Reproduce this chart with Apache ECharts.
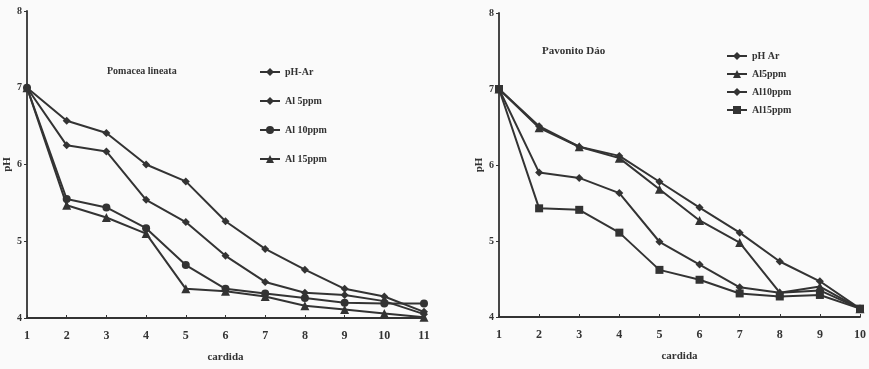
<!DOCTYPE html>
<html>
<head>
<meta charset="utf-8">
<script src="https://cdn.jsdelivr.net/npm/echarts@6/dist/echarts.min.js"></script>
<style>
html, body { margin: 0; padding: 0; background: #fafafa; }
#main { width: 869px; height: 369px; }
</style>
</head>
<body>
<div id="main"></div>
<script>
// left panel
const leftWeeks = ['1', '2', '3', '4', '5', '6', '7', '8', '9', '10', '11'];
const leftNames = ['pH-Ar', 'Al 5ppm', 'Al 10ppm', 'Al 15ppm'];
const leftPhAr = [7.0, 6.57, 6.41, 6.0, 5.78, 5.26, 4.90, 4.63, 4.38, 4.28, 4.08];
const leftAl5 = [7.0, 6.25, 6.17, 5.54, 5.25, 4.81, 4.47, 4.33, 4.30, 4.22, 4.05];
const leftAl10 = [7.0, 5.55, 5.44, 5.17, 4.69, 4.38, 4.32, 4.26, 4.20, 4.19, 4.19];
const leftAl15 = [7.0, 5.47, 5.31, 5.10, 4.38, 4.35, 4.28, 4.16, 4.11, 4.06, 4.01];

// right panel
const rightWeeks = ['1', '2', '3', '4', '5', '6', '7', '8', '9', '10'];
const rightNames = ['pH Ar', 'Al5ppm', 'Al10ppm', 'Al15ppm'];
const rightPhAr = [7.0, 6.51, 6.24, 6.12, 5.78, 5.44, 5.11, 4.73, 4.47, 4.11];
const rightAl5 = [7.0, 6.49, 6.24, 6.09, 5.68, 5.27, 4.98, 4.32, 4.40, 4.11];
const rightAl10 = [7.0, 5.90, 5.83, 5.63, 4.99, 4.69, 4.39, 4.32, 4.35, 4.11];
const rightAl15 = [7.0, 5.43, 5.41, 5.11, 4.62, 4.49, 4.31, 4.27, 4.29, 4.11];

const yTicks = [4, 5, 6, 7, 8];

const ink = '#333333';
const font = 'Liberation Serif';

function lineSeries(name, data, symbol, idx) {
  return {
    name: name,
    type: 'line',
    xAxisIndex: idx,
    yAxisIndex: idx,
    data: data,
    symbol: symbol,
    symbolSize: symbol === 'triangle' ? 9 : 8,
    lineStyle: { color: ink, width: 2 },
    itemStyle: { color: ink },
    animation: false
  };
}

function xAxisFor(idx, cats) {
  return {
    type: 'category',
    gridIndex: idx,
    data: cats,
    boundaryGap: false,
    name: 'cardida',
    nameLocation: 'middle',
    nameGap: 34,
    nameTextStyle: { color: ink, fontFamily: font, fontWeight: 'bold', fontSize: 11 },
    axisLine: { lineStyle: { color: ink, width: 1.8 } },
    axisTick: { inside: true, length: 3, lineStyle: { color: ink } },
    axisLabel: { color: ink, fontFamily: font, fontWeight: 'bold', fontSize: 12, margin: 12 },
    splitLine: { show: false }
  };
}

function yAxisFor(idx) {
  return {
    type: 'value',
    gridIndex: idx,
    min: 4,
    max: 8,
    interval: 1,
    name: 'pH',
    nameLocation: 'middle',
    nameGap: 13,
    nameTextStyle: { color: ink, fontFamily: font, fontWeight: 'bold', fontSize: 11 },
    axisLine: { show: true, lineStyle: { color: ink, width: 1.8 } },
    axisTick: { show: true, length: 3, lineStyle: { color: ink } },
    axisLabel: {
      color: ink, fontFamily: font, fontWeight: 'bold', fontSize: 10, margin: 5,
      formatter: function (v) { return yTicks.indexOf(v) >= 0 ? String(v) : ''; }
    },
    splitLine: { show: false }
  };
}

const chart = echarts.init(document.getElementById('main'));
chart.setOption({
  backgroundColor: '#fafafa',
  animation: false,
  title: [
    { text: 'Pomacea lineata', left: 102, top: 61,
      textStyle: { color: ink, fontFamily: font, fontWeight: 'bold', fontSize: 10 } },
    { text: 'Pavonito Dáo', left: 537, top: 41,
      textStyle: { color: ink, fontFamily: font, fontWeight: 'bold', fontSize: 11 } }
  ],
  legend: [
    {
      data: leftNames, orient: 'vertical', left: 254, top: 62,
      itemGap: 19, itemWidth: 20, itemHeight: 10,
      textStyle: { color: ink, fontFamily: font, fontWeight: 'bold', fontSize: 10 }
    },
    {
      data: rightNames, orient: 'vertical', left: 721, top: 46,
      itemGap: 8, itemWidth: 20, itemHeight: 10,
      textStyle: { color: ink, fontFamily: font, fontWeight: 'bold', fontSize: 10 }
    }
  ],
  grid: [
    { left: 27, right: 445, top: 11, bottom: 51 },
    { left: 499, right: 7, top: 13, bottom: 52 }
  ],
  xAxis: [xAxisFor(0, leftWeeks), xAxisFor(1, rightWeeks)],
  yAxis: [yAxisFor(0), yAxisFor(1)],
  series: [
    lineSeries(leftNames[0], leftPhAr, 'diamond', 0),
    lineSeries(leftNames[1], leftAl5, 'diamond', 0),
    lineSeries(leftNames[2], leftAl10, 'circle', 0),
    lineSeries(leftNames[3], leftAl15, 'triangle', 0),
    lineSeries(rightNames[0], rightPhAr, 'diamond', 1),
    lineSeries(rightNames[1], rightAl5, 'triangle', 1),
    lineSeries(rightNames[2], rightAl10, 'diamond', 1),
    lineSeries(rightNames[3], rightAl15, 'rect', 1)
  ]
});
</script>
</body>
</html>
